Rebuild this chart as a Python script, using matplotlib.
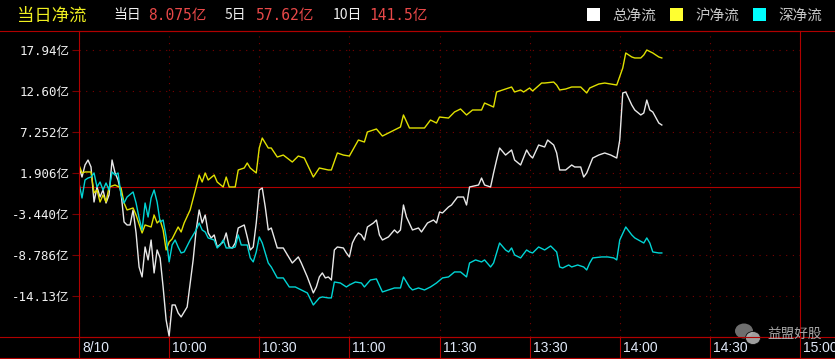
import matplotlib
matplotlib.use("Agg")
import matplotlib.pyplot as plt
import matplotlib.transforms as mtransforms
from matplotlib.lines import Line2D
from matplotlib.patches import Rectangle, Ellipse

W, H = 835, 359
CJK = ["Noto Sans CJK SC", "DejaVu Sans"]
MONO = ["DejaVu Sans Mono", "Noto Sans CJK SC"]

# ==========================================
# DATA  (minutes after 9:30, afternoon joined on at 11:30 -> 120)
# ==========================================
sh_t = [0, 1, 2, 4, 5, 6, 7, 8, 9, 10, 12, 14, 15, 16, 18, 19, 21, 22, 24, 25,
        26, 27, 28, 29, 30, 31, 33, 34, 35, 37, 39, 40, 41, 42, 43, 45, 46, 48, 49, 50,
        52, 53, 55, 56, 57, 59, 60, 61, 63, 64, 66, 68, 71, 73, 75, 78, 80, 83, 84, 86,
        88, 90, 93, 95, 96, 98, 99, 101, 105, 107, 108, 110, 113, 115, 117, 119, 120, 123, 125, 127,
        129, 131, 134, 135, 138, 139, 141, 144, 145, 147, 148, 150, 151, 154, 155, 158, 159, 160, 162, 164,
        165, 167, 169, 170, 173, 175, 177, 179, 181, 182, 184, 185, 187, 188, 189, 191, 193, 194]
sh_v = [2.93, 1.89, 2.02, 2.02, -0.72, -0.33, -1.90, -0.98, -1.90, 0.06, 0.32, -0.07, -2.03, -2.94, -2.68, -3.60, -5.94, -4.90, -5.16, -3.60,
        -4.64, -4.25, -5.55, -8.16, -7.12, -6.72, -5.16, -5.81, -4.64, -2.94, 0.06, 1.62, 0.71, 1.89, 0.97, 1.62, 0.71, 0.06, 1.36, 0.06,
        0.06, 2.28, 2.54, 3.19, 2.54, 1.89, 5.15, 6.45, 5.15, 5.15, 3.97, 4.23, 3.32, 4.10, 3.84, 1.36, 2.54, 2.28, 2.28, 4.50,
        4.23, 4.10, 6.19, 5.93, 7.24, 7.50, 7.63, 6.71, 7.50, 7.89, 9.46, 7.76, 7.76, 7.76, 8.80, 8.41, 9.19, 9.06, 9.85, 10.24,
        9.46, 10.11, 10.11, 11.02, 10.50, 12.46, 12.72, 13.11, 12.46, 12.72, 12.46, 12.98, 12.59, 13.63, 13.63, 13.76, 13.37, 12.72, 12.85, 13.11,
        13.11, 13.11, 12.33, 12.98, 13.50, 13.63, 13.50, 13.37, 15.59, 17.55, 17.03, 16.90, 16.90, 17.29, 17.94, 17.55, 17.03, 16.90]

zong_t = [0, 1, 2, 3, 4, 5, 6, 7, 8, 9, 10, 11, 12, 13, 14, 15, 16, 17, 18, 19,
          20, 21, 22, 23, 24, 25, 26, 27, 28, 29, 30, 31, 32, 33, 34, 36, 38, 39, 40, 41,
          42, 43, 44, 45, 46, 48, 49, 50, 51, 52, 53, 55, 56, 57, 58, 59, 60, 61, 62, 63,
          64, 65, 66, 68, 69, 71, 73, 74, 76, 78, 79, 80, 81, 82, 83, 84, 85, 86, 88, 89,
          90, 91, 92, 93, 94, 95, 96, 98, 99, 100, 101, 103, 105, 106, 107, 108, 109, 111, 113, 114,
          116, 118, 119, 120, 121, 123, 124, 126, 128, 129, 130, 133, 134, 135, 137, 138, 139, 140, 142, 144,
          145, 147, 149, 150, 151, 153, 155, 156, 158, 159, 160, 162, 164, 165, 167, 168, 169, 171, 173, 175,
          177, 179, 180, 181, 182, 184, 185, 187, 188, 189, 190, 191, 193, 194]
zong_v = [2.67, 1.36, 2.93, 3.58, 2.67, -1.90, 0.06, -1.25, -0.33, -2.03, -0.98, 3.58, 1.89, 0.97, -0.72, -4.51, -4.90, -4.90, -2.94, -5.94,
          -10.38, -11.68, -7.77, -9.46, -6.86, -11.16, -8.16, -9.20, -13.00, -17.29, -19.40, -15.34, -15.34, -16.38, -16.90, -15.60, -9.46, -5.55, -2.94, -4.64,
          -3.60, -5.94, -6.59, -6.20, -7.77, -7.12, -5.94, -7.77, -7.90, -7.25, -5.29, -4.90, -6.46, -8.16, -7.77, -4.64, -0.33, -0.07, -2.55, -5.55,
          -5.29, -6.59, -7.90, -7.90, -8.55, -9.86, -9.07, -9.86, -11.68, -13.77, -12.99, -11.68, -11.16, -11.81, -11.68, -12.08, -8.16, -7.77, -7.90, -8.55,
          -9.07, -7.25, -6.46, -5.94, -6.20, -6.86, -5.16, -4.64, -4.25, -6.20, -6.86, -6.46, -5.55, -5.94, -5.55, -2.29, -3.86, -5.55, -5.29, -5.81,
          -4.64, -4.25, -4.64, -3.20, -3.33, -2.55, -2.29, -1.25, -1.25, -2.29, 0.06, 0.32, 1.23, 0.32, 0.06, 1.89, 3.58, 5.15, 4.23, 4.89,
          3.58, 2.93, 4.89, 4.23, 3.84, 5.54, 5.28, 6.19, 5.54, 4.50, 2.28, 2.28, 2.93, 2.67, 2.67, 1.36, 1.89, 3.84, 4.23, 4.50,
          4.23, 3.84, 6.19, 12.33, 12.46, 10.76, 10.11, 9.46, 9.72, 11.41, 10.11, 9.85, 8.41, 8.15]

sz_t = [0, 1, 2, 3, 4, 5, 6, 7, 8, 9, 10, 11, 12, 13, 14, 15, 16, 18, 19, 20,
        21, 22, 23, 24, 25, 26, 27, 28, 29, 30, 31, 32, 33, 34, 35, 37, 39, 40, 41, 42,
        43, 45, 46, 47, 48, 49, 51, 52, 53, 54, 56, 57, 58, 59, 60, 61, 63, 64, 66, 68,
        70, 72, 74, 76, 78, 80, 81, 83, 84, 85, 87, 89, 90, 92, 94, 95, 97, 99, 101, 103,
        105, 107, 108, 110, 111, 113, 115, 117, 119, 121, 123, 125, 127, 129, 130, 132, 134, 135, 137, 138,
        139, 140, 142, 143, 144, 145, 147, 149, 150, 151, 153, 155, 157, 159, 160, 161, 163, 164, 166, 168,
        169, 170, 171, 174, 176, 178, 179, 180, 182, 184, 185, 188, 189, 190, 191, 193, 194]
sz_v = [0.58, -1.38, 0.97, 1.23, 1.36, 1.89, 0.06, 0.71, -0.33, 0.58, -0.33, 2.02, 1.62, 1.89, -0.98, -2.03, -1.25, -0.59, -2.03, -3.99,
        -5.55, -2.03, -3.86, -1.38, -0.33, -1.90, -4.51, -4.25, -6.46, -9.72, -7.51, -6.86, -7.77, -8.55, -8.42, -6.86, -5.55, -4.64, -5.55, -5.81,
        -6.59, -6.86, -7.90, -7.51, -6.86, -7.90, -7.90, -7.77, -6.20, -7.51, -7.51, -9.20, -9.72, -8.42, -6.46, -7.25, -9.86, -10.38, -11.81, -11.81,
        -12.99, -12.99, -13.38, -13.77, -15.34, -14.42, -14.29, -14.42, -14.42, -12.34, -12.47, -12.99, -12.73, -12.34, -12.47, -12.99, -12.08, -11.94, -13.64, -13.38,
        -13.12, -13.12, -11.68, -12.99, -13.38, -13.12, -13.38, -12.99, -12.47, -11.81, -11.68, -11.03, -11.03, -11.68, -9.86, -9.46, -9.72, -9.46, -10.38, -9.86,
        -8.55, -7.25, -8.16, -8.42, -7.90, -8.81, -9.20, -8.16, -8.42, -8.55, -7.77, -8.16, -7.64, -8.42, -10.38, -10.51, -10.12, -10.38, -10.12, -10.38,
        -10.77, -9.86, -9.20, -9.07, -9.07, -9.20, -9.46, -6.86, -5.16, -6.20, -6.59, -7.25, -6.59, -7.25, -8.42, -8.55, -8.55]

xtick_min = [0, 30, 60, 90, 120, 150, 180, 210, 240]
xtick_lbl = ["8/10", "10:00", "10:30", "11:00", "11:30", "13:30", "14:00", "14:30", "15:00"]
ytick_val = [17.944, 12.598, 7.252, 1.906, -3.440, -8.786, -14.132]
ytick_lbl = ["17.94亿", "12.60亿", "7.252亿", "1.906亿", "-3.440亿", "-8.786亿", "-14.13亿"]

header_lbl = ["当日", "5日", "10日"]
header_val = ["8.075亿", "57.62亿", "141.5亿"]
legend_lbl = ["总净流", "沪净流", "深净流"]

RED = "#b00000"
GRID = "#7a0000"
WHITE = "#e8e8e8"
YELLOW = "#e0e000"
CYAN = "#00d4d4"


def fx(x):
    return x / W


def fy(y):
    return 1 - y / H


fig = plt.figure(figsize=(W / 100, H / 100), dpi=100, facecolor="black")

# ==========================================
# PLOT AREA
# ==========================================
ax = fig.add_axes([fx(79), fy(337), fx(800) - fx(79), fy(31) - fy(337)])
ax.set_facecolor("black")
ax.set_xlim(0, 240)
ax.set_ylim(-19.52, 20.42)

for s in ax.spines.values():
    s.set_color(RED)
    s.set_linewidth(0.8)

ax.set_yticks(ytick_val)
ax.set_yticklabels(ytick_lbl, family=MONO, fontsize=9, color="#f0f0f0")
ax.tick_params(axis="y", length=5, width=0.8, color=GRID, pad=2)

ax.set_xticks(xtick_min)
ax.set_xticklabels([])
ax.tick_params(axis="x", length=15.3, width=0.8, color=RED, direction="out")

ax.grid(True, color=GRID, linewidth=0.8, linestyle=(0, (1, 5)))
ax.axhline(0, color=RED, linewidth=0.8)

ax.plot(zong_t, zong_v, color=WHITE, linewidth=1.0)
ax.plot(sh_t, sh_v, color=YELLOW, linewidth=1.0)
ax.plot(sz_t, sz_v, color=CYAN, linewidth=1.0)

# time labels inside the bottom strip
trans = mtransforms.blended_transform_factory(ax.transData, fig.transFigure)
for t, lbl in zip(xtick_min, xtick_lbl):
    ax.text(t, fy(348), lbl, transform=mtransforms.offset_copy(trans, fig=fig, x=2.2, units="points"),
            ha="left", va="center", fontsize=10, family="Liberation Sans", color="#dfe8f8",
            clip_on=False)

# strip borders
for yy in [31, 337, 358.3]:
    fig.add_artist(Line2D([0, 1], [fy(yy), fy(yy)], color=RED, linewidth=0.8))

# ==========================================
# HEADER
# ==========================================
fig.text(fx(17), fy(15.5), "当日净流", family=CJK, fontsize=12.5, color="#f0f020", va="center")

hx = [(113, 148), (225, 256), (333, 369)]
for (lx, vx), lbl, val in zip(hx, header_lbl, header_val):
    fig.text(fx(lx), fy(15.5), lbl, family=CJK, fontsize=10, color="#f0f0f0", va="center")
    fig.text(fx(vx), fy(15.5), val, family=MONO, fontsize=10.5, color="#e84848", va="center")

leg_x = [587, 670, 753]
leg_c = ["#ffffff", "#ffff30", "#00ffff"]
for x0, lbl, c in zip(leg_x, legend_lbl, leg_c):
    fig.add_artist(Rectangle((fx(x0), fy(21)), 13 / W, 13 / H, facecolor=c, edgecolor="none",
                             transform=fig.transFigure))
    fig.text(fx(x0 + 25), fy(15.5), lbl, family=CJK, fontsize=10.5, color="#c8c8c8", va="center")

# ==========================================
# WATERMARK
# ==========================================
fig.add_artist(Ellipse((fx(744), fy(331)), 18 / W, 15 / H, facecolor="#8a8a8a", edgecolor="none",
                       transform=fig.transFigure, alpha=0.8))
fig.add_artist(Ellipse((fx(753), fy(338)), 15 / W, 13 / H, facecolor="#b0b0b0", edgecolor="black",
                       linewidth=0.6, transform=fig.transFigure, alpha=0.9))
fig.text(fx(767), fy(334), "益盟好股", family=CJK, fontsize=9.8, color="#a8a8a8", va="center")

fig.savefig("out.png", dpi=100, facecolor="black")
